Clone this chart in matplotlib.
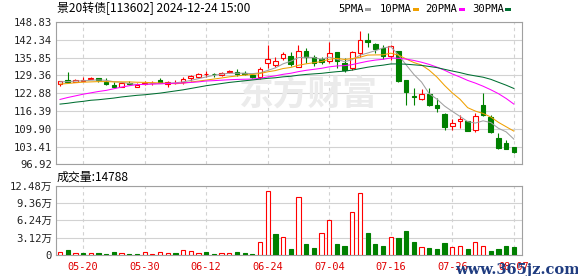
import numpy as np
import pandas as pd
import matplotlib
matplotlib.use('Agg')
from matplotlib import pyplot as plt
from matplotlib.patches import Rectangle

# values
title = '景20转债[113602] 2024-12-24 15:00'
vol_title = '成交量:14788'

dates = ['05-15', '05-16', '05-17', '05-20', '05-21', '05-22', '05-23', '05-24', '05-27', '05-28',
         '05-29', '05-30', '05-31', '06-03', '06-04', '06-05', '06-06', '06-07', '06-11', '06-12',
         '06-13', '06-14', '06-17', '06-18', '06-19', '06-20', '06-21', '06-24', '06-25', '06-26',
         '06-27', '06-28', '07-01', '07-02', '07-03', '07-04', '07-05', '07-08', '07-09', '07-10',
         '07-11', '07-12', '07-15', '07-16', '07-17', '07-18', '07-19', '07-22', '07-23', '07-24',
         '07-25', '07-26', '07-29', '07-30', '07-31', '08-01', '08-02', '08-05', '08-06', '08-07']

opens = [126.1, 127.7, 127.0, 127.3, 128.2, 128.4, 127.0, 126.0, 125.2, 126.6,
         125.3, 126.4, 126.5, 127.6, 126.4, 126.5, 127.0, 128.5, 128.9, 129.7,
         129.9, 129.5, 130.6, 130.6, 130.3, 129.4, 128.9, 133.8, 133.3, 135.8,
         136.5, 132.5, 138.4, 135.9, 135.3, 134.6, 138.0, 134.0, 131.9, 137.4,
         142.4, 140.9, 139.2, 136.4, 138.3, 127.7, 122.0, 120.9, 122.5, 118.6,
         115.3, 111.0, 112.8, 112.8, 109.5, 118.6, 114.3, 106.6, 104.6, 103.1]
closes = [127.2, 127.0, 127.7, 127.6, 128.5, 127.7, 126.3, 125.2, 126.5, 126.3,
          125.9, 126.5, 126.6, 126.7, 126.8, 126.7, 128.2, 129.2, 130.0, 129.9,
          129.7, 130.4, 130.8, 130.0, 129.9, 128.9, 131.8, 135.3, 134.6, 137.3,
          133.6, 138.4, 136.1, 133.9, 134.3, 137.4, 134.7, 131.4, 137.8, 142.3,
          141.4, 139.0, 136.4, 140.0, 127.2, 123.4, 121.6, 122.5, 118.7, 117.4,
          110.7, 111.9, 113.4, 109.2, 114.7, 114.8, 108.8, 102.9, 102.7, 101.5]
highs = [127.3, 130.6, 128.0, 128.7, 128.8, 128.4, 128.4, 126.9, 126.5, 127.2,
         126.6, 127.3, 127.2, 128.3, 127.3, 127.7, 128.9, 129.6, 130.4, 130.8,
         130.4, 130.6, 131.3, 131.6, 130.8, 130.0, 132.5, 140.6, 136.1, 137.9,
         137.8, 140.6, 139.5, 136.7, 136.0, 141.6, 138.0, 135.6, 138.4, 145.5,
         144.7, 141.3, 140.3, 140.4, 138.3, 127.7, 124.9, 124.3, 124.7, 121.0,
         115.5, 113.5, 114.9, 112.8, 115.5, 122.8, 114.8, 108.2, 105.8, 103.1]
lows = [125.4, 127.0, 126.9, 127.2, 128.0, 127.0, 125.9, 125.0, 125.1, 125.9,
        125.2, 125.9, 125.8, 126.5, 125.0, 126.2, 126.2, 127.4, 128.5, 128.9,
        128.9, 129.2, 130.2, 129.3, 129.6, 128.4, 128.2, 132.1, 132.3, 134.9,
        132.8, 132.5, 134.0, 132.9, 133.6, 133.8, 132.2, 130.5, 131.3, 136.2,
        139.6, 137.6, 135.2, 135.0, 127.0, 118.6, 118.6, 120.4, 118.3, 116.1,
        109.6, 109.4, 110.3, 109.2, 108.8, 114.6, 108.5, 102.5, 102.6, 101.0]
# volume in units of 万
volumes = [0.54, 0.90, 0.36, 0.36, 0.36, 0.36, 0.24, 0.54, 0.36, 0.24,
           0.24, 0.48, 0.24, 0.48, 0.36, 0.36, 0.84, 0.72, 0.36, 0.54,
           0.24, 0.36, 0.36, 0.60, 0.36, 0.24, 2.34, 11.5, 3.84, 3.18,
           1.08, 10.4, 2.04, 1.26, 3.96, 6.24, 1.98, 1.62, 7.68, 11.1,
           3.96, 1.98, 1.62, 3.18, 3.06, 4.32, 2.40, 1.38, 1.20, 1.08,
           2.16, 1.38, 1.56, 1.02, 2.28, 1.56, 0.72, 1.02, 1.56, 1.48]

# moving average values before a full window is available inside the chart
ma5_head = [127.0, 127.1, 127.3, 127.4]
ma10_head = [126.2, 126.4, 126.7, 126.9, 127.0, 127.1, 127.1, 127.0, 127.0]
ma20_head = [120.6, 121.3, 121.9, 122.5, 123.0, 123.5, 123.9, 124.5, 125.1, 125.6,
             126.0, 126.1, 126.2, 126.3, 126.4, 126.5, 126.6, 126.8, 127.0]
ma30_head = [118.9, 119.2, 119.6, 119.9, 120.3, 120.5, 120.8, 121.1, 121.5, 121.8,
             122.1, 122.3, 122.6, 122.9, 123.3, 123.7, 124.1, 124.6, 125.1, 125.6,
             126.0, 126.4, 126.8, 127.1, 127.4, 127.7, 128.0, 128.3, 128.5]

price_ticks = ['96.92', '103.41', '109.90', '116.39', '122.88', '129.36', '135.85', '142.34', '148.83']
vol_ticks = [0, 3.12, 6.24, 9.36, 12.48]
vol_tick_labels = ['0', '3.12万', '6.24万', '9.36万', '12.48万']
date_ticks = ['05-20', '05-30', '06-12', '06-24', '07-04', '07-16', '07-26', '08-07']

ma_names = ['5PMA', '10PMA', '20PMA', '30PMA']
ma_windows = [5, 10, 20, 30]
ma_heads = [ma5_head, ma10_head, ma20_head, ma30_head]
ma_colors = ['#a0a0a0', '#f0a000', '#ff00ff', '#006f32']

RED = '#ff0000'
GREEN = '#008000'
GRID = '#d2d2d2'
SPINE = '#a0a0a0'
NUM_FONT = ['DejaVu Sans Mono', 'Noto Sans CJK SC']
CJK_FONT = ['Noto Sans CJK SC', 'DejaVu Sans']

W, H = 578, 276
def fx(px):
    return px / W
def fy(py):
    return 1 - py / H

fig = plt.figure(figsize=(W / 100, H / 100), dpi=100)
left, right = 55.7, 522.3
ax = fig.add_axes([fx(left), fy(164.4), (right - left) / W, (164.4 - 22) / H])
axv = fig.add_axes([fx(left), fy(255), (right - left) / W, (255 - 185.7) / H])

x = np.arange(len(dates))
o = np.array(opens)
c = np.array(closes)
up = c >= o

# candles: wicks first, bodies on top so hollow bodies hide the wick
for i in x:
    col = RED if up[i] else GREEN
    ax.vlines(i, lows[i], highs[i], color=col, lw=0.8, zorder=2)
body_bottom = np.minimum(o, c)
body_h = np.maximum(np.abs(c - o), 0.08)
ax.bar(x, body_h, bottom=body_bottom, width=0.6,
       facecolor=['white' if u else GREEN for u in up],
       edgecolor=[RED if u else GREEN for u in up], lw=0.8, zorder=3)

# moving averages
close_s = pd.Series(closes)
for name, n, head, col in zip(ma_names, ma_windows, ma_heads, ma_colors):
    ma = close_s.rolling(n).mean()
    ma.iloc[:n - 1] = head
    ax.plot(x, ma, color=col, lw=0.75, zorder=4)

# volume: colour by close against the previous close
vol_up = [up[0]] + [closes[i] >= closes[i - 1] for i in range(1, len(closes))]
axv.bar(x, volumes, width=0.55,
        facecolor=['white' if u else GREEN for u in vol_up],
        edgecolor=[RED if u else GREEN for u in vol_up], lw=0.8, zorder=3)

tick_idx = [dates.index(d) for d in date_ticks]
for a in (ax, axv):
    a.set_xlim(-0.56, 60.1)
    a.set_xticks(tick_idx)
    a.set_axisbelow(True)
    a.grid(axis='x', color=GRID, ls=(0, (3, 3)), lw=0.8)
    a.grid(axis='y', color=GRID, ls='-', lw=0.8)
    for s in a.spines.values():
        s.set_color(SPINE)
        s.set_linewidth(0.8)
    a.tick_params(length=0, pad=2.5, labelsize=7.6, labelcolor='#222222')

ax.set_ylim(float(price_ticks[0]), float(price_ticks[-1]))
ax.set_yticks([float(t) for t in price_ticks])
ax.set_yticklabels(price_ticks, family=NUM_FONT)
ax.tick_params(axis='x', labelbottom=False)

axv.set_ylim(0, vol_ticks[-1])
axv.set_yticks(vol_ticks)
axv.set_yticklabels(vol_tick_labels, family=NUM_FONT)
axv.set_xticklabels(date_ticks, family=NUM_FONT, color='#e00000', fontsize=7.4)
axv.tick_params(axis='x', pad=5)

# texts above the panels
fig.text(fx(57), fy(8.5), title, family=CJK_FONT, fontsize=8.6, va='center', ha='left')
fig.text(fx(57), fy(177), vol_title, family=CJK_FONT, fontsize=8.6, va='center', ha='left')

leg_text_x = [338, 380, 425, 472]
leg_box_x = [365, 413, 459, 505]
for name, col, tx, bx in zip(ma_names, ma_colors, leg_text_x, leg_box_x):
    fig.text(fx(tx), fy(9), name, family=NUM_FONT, fontsize=7.6, va='center', ha='left')
    fig.add_artist(Rectangle((fx(bx), fy(11)), 6 / W, 3.5 / H, transform=fig.transFigure,
                             facecolor=col, edgecolor='none'))

# watermarks
ax.text(fx(308), fy(94), '东方财富', transform=fig.transFigure, family=CJK_FONT,
        fontsize=25, fontweight='bold', color='#ebebeb', ha='center', va='center', zorder=1)
fig.text(fx(455), fy(270), 'www.365jz.com', family='DejaVu Serif', fontweight='bold',
         fontsize=10.5, color='#1f3c80', ha='left', va='center')

fig.savefig('out.png', dpi=100)
